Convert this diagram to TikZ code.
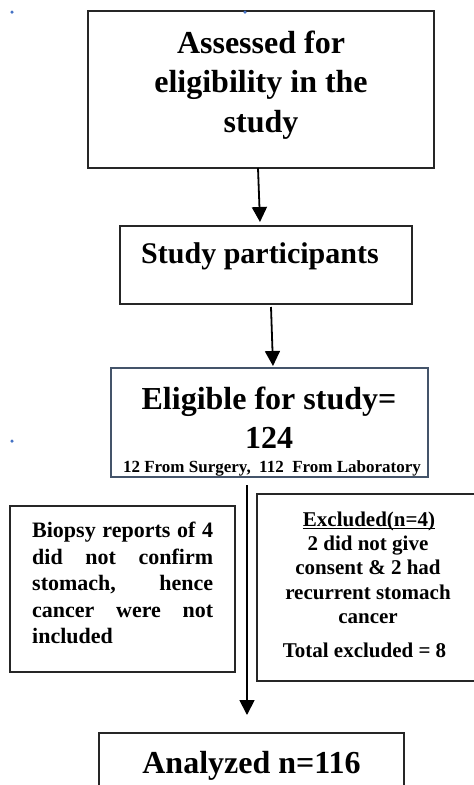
\documentclass[tikz,border=0pt]{standalone}
\usepackage{fontspec}
\setmainfont{Liberation Serif}
\usetikzlibrary{arrows.meta}
\definecolor{slate}{RGB}{68,84,106}
\definecolor{handle}{RGB}{68,114,196}
\begin{document}
\begin{tikzpicture}[x=1pt,y=-1pt,
  box/.style={draw=black!85, line width=1.6pt, inner sep=0pt, outer sep=0pt, rectangle},
  arr/.style={line width=1.8pt, -{Triangle[length=15pt,width=15pt]}},
  txt/.style={anchor=base, inner sep=0pt},
  big/.style={txt, font=\fontsize{32}{38}\selectfont\bfseries},
  mid/.style={txt, font=\fontsize{30}{36}\selectfont\bfseries},
  sml/.style={txt, font=\fontsize{17}{20}\selectfont\bfseries},
  lft/.style={txt, anchor=base west, font=\fontsize{22}{26}\selectfont\bfseries},
  rgt/.style={txt, font=\fontsize{21}{25}\selectfont\bfseries},
  uline/.style={line width=0.9pt},
  hdot/.style={circle, fill=handle, inner sep=0pt, minimum size=3.5pt}]
\useasboundingbox (0,0) rectangle (474,785);

% boxes
\node[box, minimum width=346pt, minimum height=157pt] (b1) at (261,89.5) {};
\node[box, minimum width=292pt, minimum height=78pt] (b2) at (266,265) {};
\node[box, draw=slate, minimum width=317pt, minimum height=109pt] (b3) at (269.5,422.5) {};
\node[box, minimum width=225pt, minimum height=166pt] (bl) at (122.5,589) {};
\node[box, minimum width=223pt, minimum height=187pt] (br) at (368.5,587.5) {};
\node[box, minimum width=305pt, minimum height=67pt] (b5) at (251.5,766.5) {};

% texts
\node[big] (t1a) at (261,53) {Assessed for};
\node[big] (t1b) at (261,92.5) {eligibility in the};
\node[big] (t1c) at (261,132) {study};

\node[mid] (t2) at (260,263) {Study participants};

\node[big] (t3a) at (269,409) {Eligible for study=};
\node[big] (t3b) at (269,448) {124};
\node[sml] (t3c) at (272,472) {12 From Surgery,\ \ 112\ \ From Laboratory};

\node[lft] (l1) at (32,537.5) {\makebox[181pt][l]{Biopsy\hfill reports\hfill of\hfill 4}};
\node[lft] (l2) at (32,564) {\makebox[181pt][l]{did\hfill not\hfill confirm}};
\node[lft] (l3) at (32,590.5) {\makebox[181pt][l]{stomach,\hfill hence}};
\node[lft] (l4) at (32,617) {\makebox[181pt][l]{cancer\hfill were\hfill not}};
\node[lft] (l5) at (32,643) {included};

\node[rgt] (r1) at (369,526) {Excluded(n=4)};
\draw[uline] ([yshift=-2.5pt]r1.base west) -- ([yshift=-2.5pt]r1.base east);
\node[rgt] (r2) at (368,550) {2 did not give};
\node[rgt] (r3) at (368,574.5) {consent \& 2 had};
\node[rgt] (r4) at (368,599) {recurrent stomach};
\node[rgt] (r5) at (368,623) {cancer};
\node[rgt] (r6) at (364.5,657) {Total excluded = 8};

\node[big] (t5) at (251.5,773) {Analyzed n=116};

% connectors
\draw[arr] ([xshift=-3pt]b1.south) -- ([xshift=-6pt,yshift=4pt]b2.north);
\draw[arr] ([xshift=5pt,yshift=-3pt]b2.south) -- ([xshift=3.5pt,yshift=2pt]b3.north);
\draw[arr] ([xshift=-22.5pt,yshift=-8pt]b3.south) -- ([xshift=-4.5pt,yshift=18pt]b5.north);

% selection handles
\node[hdot] (h1) at (12,12) {};
\node[hdot] (h2) at (245,12) {};
\node[hdot] (h3) at (12,441) {};
\end{tikzpicture}
\end{document}
